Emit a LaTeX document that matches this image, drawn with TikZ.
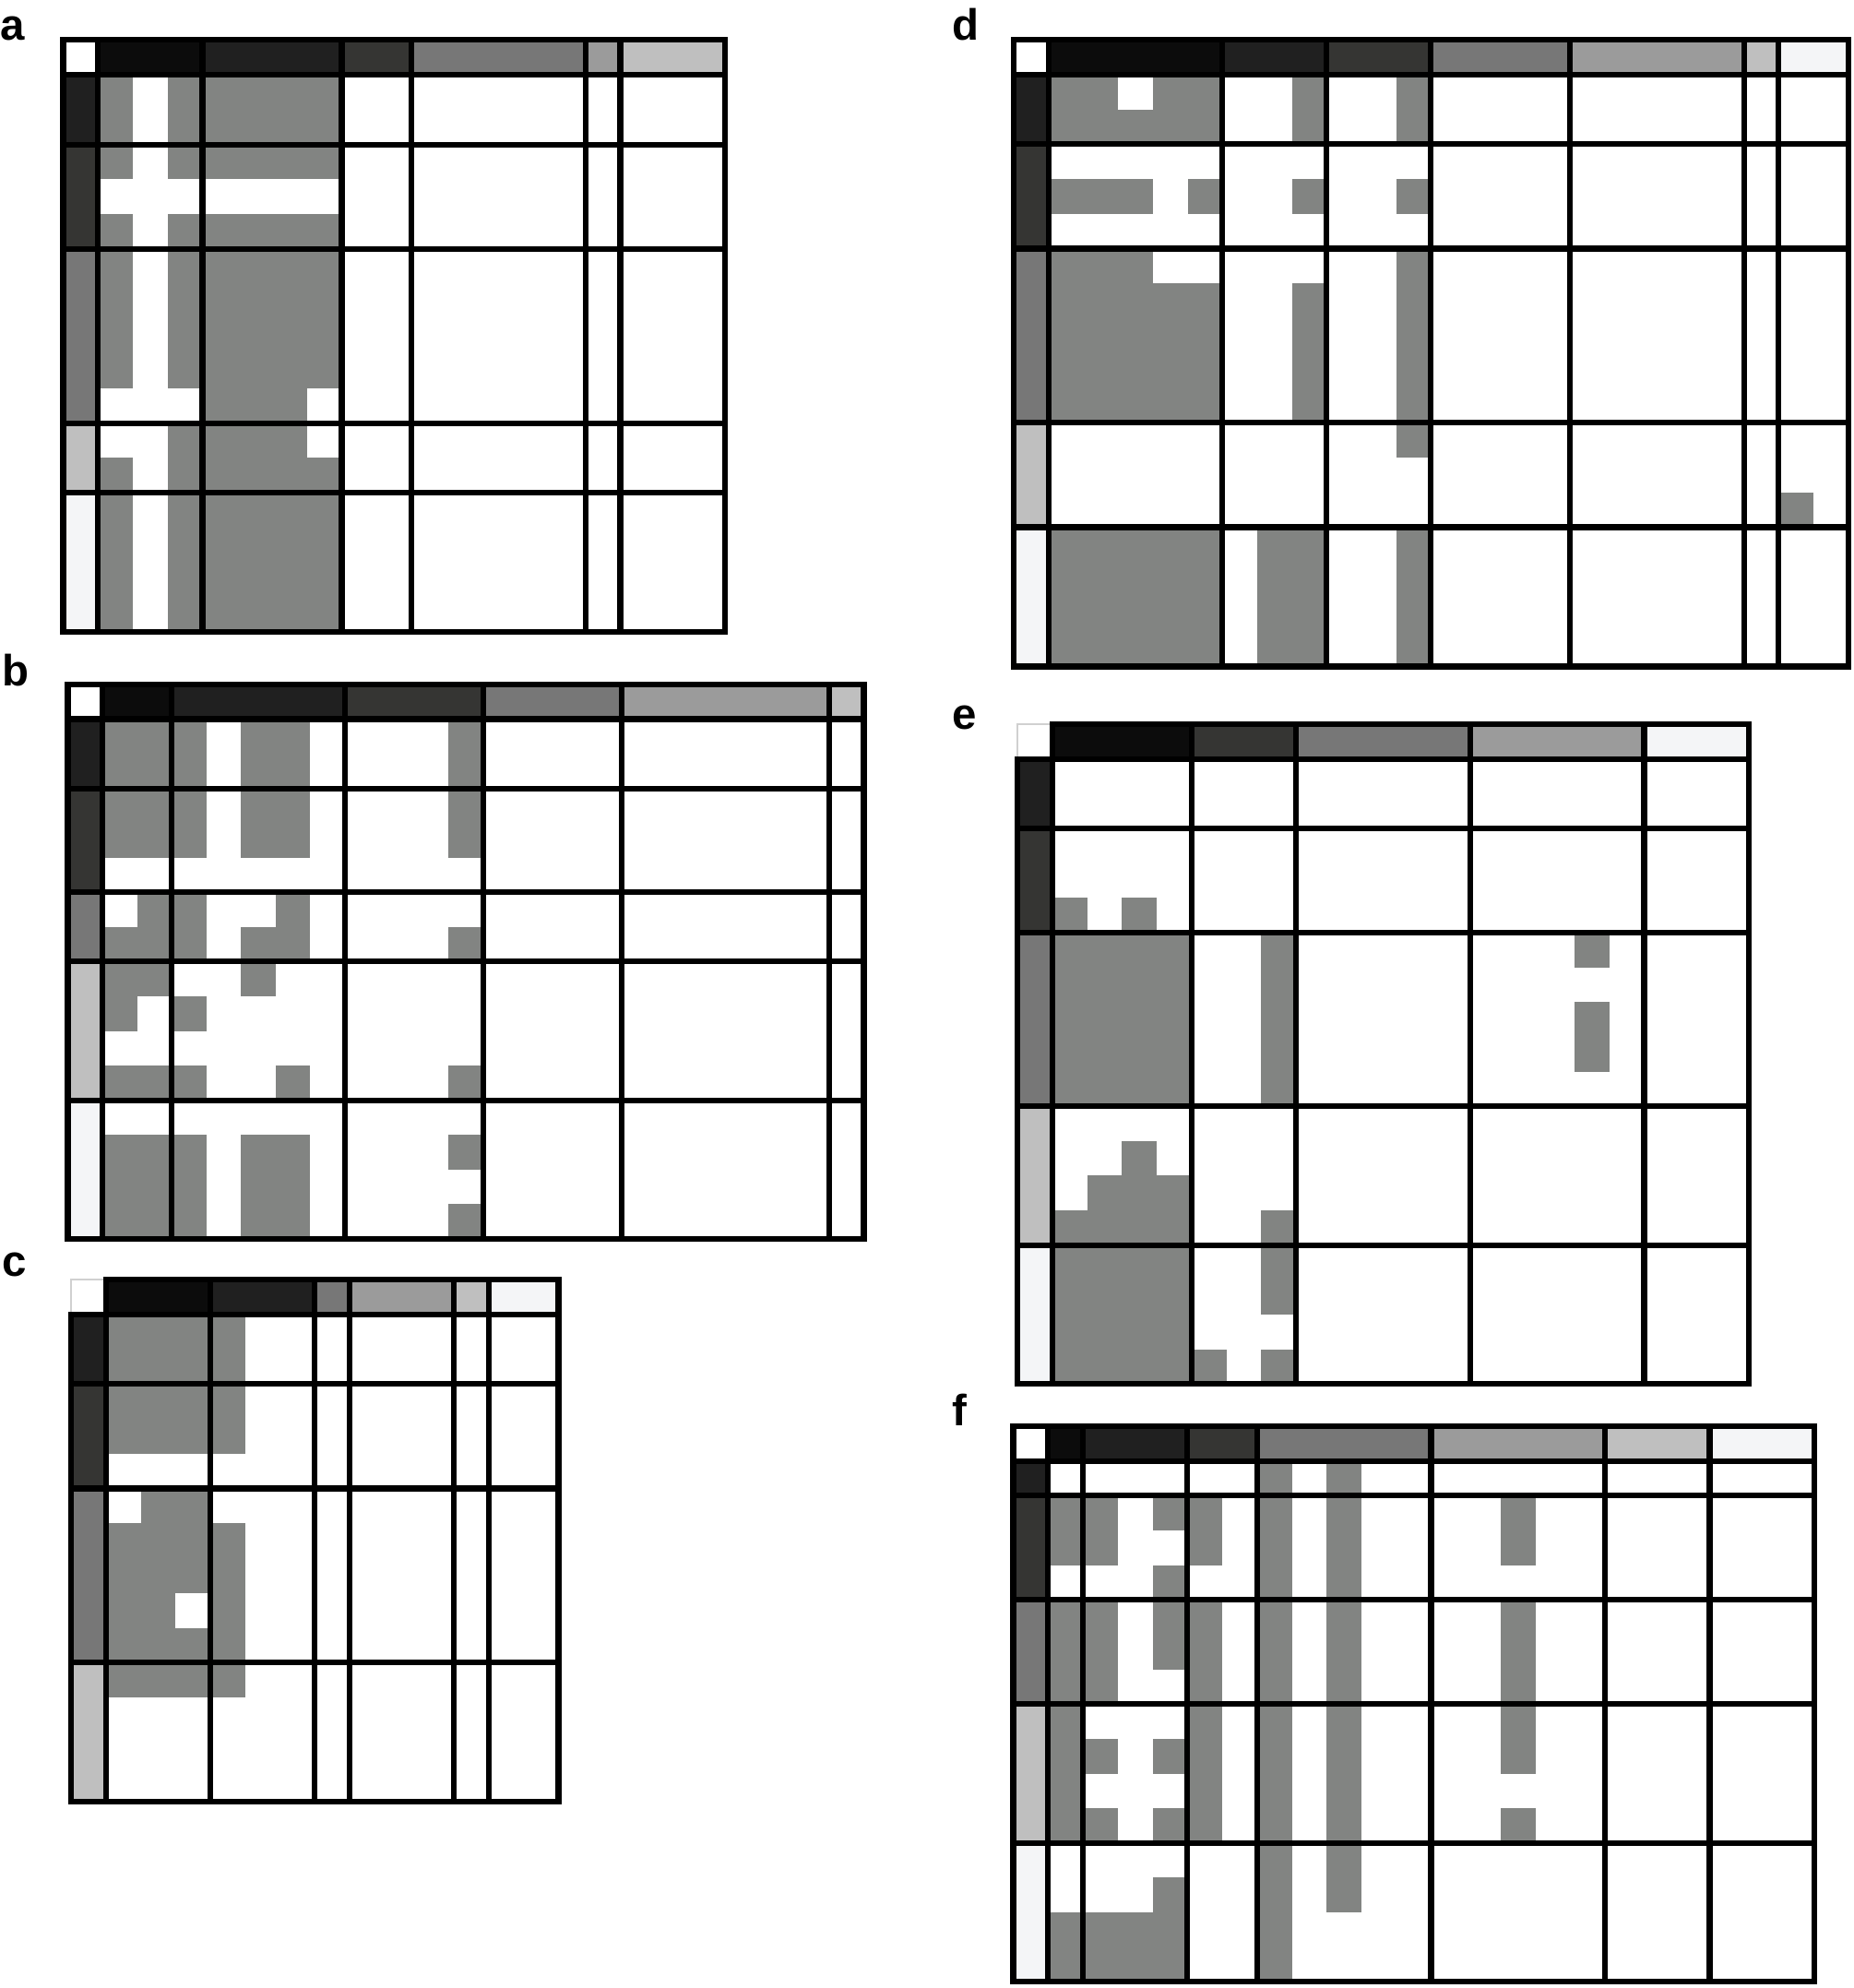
\documentclass[tikz,border=0pt]{standalone}
\usepackage{fontspec}
\setmainfont{Liberation Sans}

\definecolor{hdA}{HTML}{0C0C0C}
\definecolor{hdB}{HTML}{202020}
\definecolor{hdC}{HTML}{353533}
\definecolor{hdD}{HTML}{777777}
\definecolor{hdE}{HTML}{9B9B9B}
\definecolor{hdF}{HTML}{BFBFBF}
\definecolor{hdG}{HTML}{F4F5F7}
\definecolor{cellGrey}{HTML}{828482}
\definecolor{cornerGrey}{HTML}{D0D0D0}

\tikzset{
  gridline/.style={line width=1.75pt, line cap=rect},
  cornerline/.style={draw=cornerGrey, line width=0.8pt},
  cellfill/.style={fill=cellGrey},
  panellabel/.style={font=\fontsize{13.5}{14}\selectfont\bfseries, anchor=base west, inner sep=0pt}
}

\begin{document}
\begin{tikzpicture}
    \useasboundingbox (0,0) rectangle (20.10,-21.55);

    % Panel labels
    \node[panellabel] (labA) at (0.00,-0.43) {a};
    \node[panellabel] (labB) at (0.02,-7.43) {b};
    \node[panellabel] (labC) at (0.02,-13.83) {c};
    \node[panellabel] (labD) at (10.32,-0.43) {d};
    \node[panellabel] (labE) at (10.32,-7.90) {e};
    \node[panellabel] (labF) at (10.32,-15.45) {f};

    % Panel a
    \begin{scope}[shift={(0.685cm,-0.434cm)}, x=0.3775cm, y=-0.3775cm]
        \foreach \c/\a/\b in {hdA/1/4, hdB/4/8, hdC/8/10, hdD/10/15, hdE/15/16, hdF/16/19}
            \fill[\c] (\a,0) rectangle (\b,1);
        \foreach \c/\a/\b in {hdB/1/3, hdC/3/6, hdD/6/11, hdF/11/13, hdG/13/17}
            \fill[\c] (0,\a) rectangle (1,\b);
        \foreach \x/\y/\w/\h in {1/1/1/3, 3/1/5/3, 1/5/1/5, 3/5/5/5, 4/10/3/1, 3/11/4/1, 1/12/1/5, 3/12/5/5}
            \fill[cellfill] (\x,\y) rectangle ++(\w,\h);
        \foreach \x in {1,4,8,10,15,16}
            \draw[gridline] (\x,0) -- (\x,17);
        \foreach \y in {1,3,6,11,13}
            \draw[gridline] (0,\y) -- (19,\y);
        \draw[gridline] (0,0) rectangle (19,17);
    \end{scope}

    % Panel b
    \begin{scope}[shift={(0.735cm,-7.42cm)}, x=0.3752cm, y=-0.3755cm]
        \foreach \c/\a/\b in {hdA/1/3, hdB/3/8, hdC/8/12, hdD/12/16, hdE/16/22, hdF/22/23}
            \fill[\c] (\a,0) rectangle (\b,1);
        \foreach \c/\a/\b in {hdB/1/3, hdC/3/6, hdD/6/8, hdF/8/12, hdG/12/16}
            \fill[\c] (0,\a) rectangle (1,\b);
        \foreach \x/\y/\w/\h in {1/1/3/4, 5/1/2/4, 11/1/1/4, 2/6/2/1, 6/6/1/1, 1/7/3/1, 5/7/2/1, 11/7/1/1,
                1/8/2/1, 5/8/1/1, 1/9/1/1, 3/9/1/1, 1/11/3/1, 6/11/1/1, 11/11/1/1,
                1/13/3/3, 5/13/2/3, 11/13/1/1, 11/15/1/1}
            \fill[cellfill] (\x,\y) rectangle ++(\w,\h);
        \foreach \x in {1,3,8,12,16,22}
            \draw[gridline] (\x,0) -- (\x,16);
        \foreach \y in {1,3,6,8,12}
            \draw[gridline] (0,\y) -- (23,\y);
        \draw[gridline] (0,0) rectangle (23,16);
    \end{scope}

    % Panel c
    \begin{scope}[shift={(0.77cm,-13.87cm)}, x=0.3775cm, y=-0.3775cm]
        \foreach \c/\a/\b in {hdA/1/4, hdB/4/7, hdD/7/8, hdE/8/11, hdF/11/12, hdG/12/14}
            \fill[\c] (\a,0) rectangle (\b,1);
        \foreach \c/\a/\b in {hdB/1/3, hdC/3/6, hdD/6/11, hdF/11/15}
            \fill[\c] (0,\a) rectangle (1,\b);
        \foreach \x/\y/\w/\h in {1/1/4/4, 2/6/2/1, 1/7/4/2, 1/9/2/1, 4/9/1/1, 1/10/4/2}
            \fill[cellfill] (\x,\y) rectangle ++(\w,\h);
        \foreach \x in {1,4,7,8,11,12}
            \draw[gridline] (\x,0) -- (\x,15);
        \foreach \y in {1,3,6,11}
            \draw[gridline] (0,\y) -- (14,\y);
        \draw[cornerline] (0,1) -- (0,0) -- (1,0);
        \draw[gridline] (1,0) -- (14,0) -- (14,15) -- (0,15) -- (0,1);
    \end{scope}

    % Panel d
    \begin{scope}[shift={(10.99cm,-0.43cm)}, x=0.3770cm, y=-0.3775cm]
        \foreach \c/\a/\b in {hdA/1/6, hdB/6/9, hdC/9/12, hdD/12/16, hdE/16/21, hdF/21/22, hdG/22/24}
            \fill[\c] (\a,0) rectangle (\b,1);
        \foreach \c/\a/\b in {hdB/1/3, hdC/3/6, hdD/6/11, hdF/11/14, hdG/14/18}
            \fill[\c] (0,\a) rectangle (1,\b);
        \foreach \x/\y/\w/\h in {1/1/2/1, 4/1/2/1, 1/2/5/1, 8/1/1/2, 11/1/1/2, 1/4/3/1, 5/4/1/1, 8/4/1/1,
                11/4/1/1, 1/6/3/1, 1/7/5/4, 8/7/1/4, 11/6/1/6, 22/13/1/1, 1/14/5/4, 7/14/2/4, 11/14/1/4}
            \fill[cellfill] (\x,\y) rectangle ++(\w,\h);
        \foreach \x in {1,6,9,12,16,21,22}
            \draw[gridline] (\x,0) -- (\x,18);
        \foreach \y in {1,3,6,11,14}
            \draw[gridline] (0,\y) -- (24,\y);
        \draw[gridline] (0,0) rectangle (24,18);
    \end{scope}

    % Panel e
    \begin{scope}[shift={(11.03cm,-7.85cm)}, x=0.3775cm, y=-0.3765cm]
        \foreach \c/\a/\b in {hdA/1/5, hdC/5/8, hdD/8/13, hdE/13/18, hdG/18/21}
            \fill[\c] (\a,0) rectangle (\b,1);
        \foreach \c/\a/\b in {hdB/1/3, hdC/3/6, hdD/6/11, hdF/11/15, hdG/15/19}
            \fill[\c] (0,\a) rectangle (1,\b);
        \foreach \x/\y/\w/\h in {1/5/1/1, 3/5/1/1, 1/6/4/5, 7/6/1/5, 16/6/1/1, 16/8/1/2, 3/12/1/1,
                2/13/3/1, 1/14/4/5, 7/14/1/3, 5/18/1/1, 7/18/1/1}
            \fill[cellfill] (\x,\y) rectangle ++(\w,\h);
        \foreach \x in {1,5,8,13,18}
            \draw[gridline] (\x,0) -- (\x,19);
        \foreach \y in {1,3,6,11,15}
            \draw[gridline] (0,\y) -- (21,\y);
        \draw[cornerline] (0,1) -- (0,0) -- (1,0);
        \draw[gridline] (1,0) -- (21,0) -- (21,19) -- (0,19) -- (0,1);
    \end{scope}

    % Panel f
    \begin{scope}[shift={(10.985cm,-15.46cm)}, x=0.3775cm, y=-0.3765cm]
        \foreach \c/\a/\b in {hdA/1/2, hdB/2/5, hdC/5/7, hdD/7/12, hdE/12/17, hdF/17/20, hdG/20/23}
            \fill[\c] (\a,0) rectangle (\b,1);
        \foreach \c/\a/\b in {hdB/1/2, hdC/2/5, hdD/5/8, hdF/8/12, hdG/12/16}
            \fill[\c] (0,\a) rectangle (1,\b);
        \foreach \x/\y/\w/\h in {7/1/1/15, 9/1/1/13, 1/2/2/2, 4/2/1/1, 4/4/1/3, 5/2/1/2, 14/2/1/2,
                1/5/1/7, 2/5/1/3, 5/5/1/7, 14/5/1/5, 14/11/1/1, 2/9/1/1, 2/11/1/1, 4/9/1/1,
                4/11/1/1, 1/14/3/2, 4/13/1/3}
            \fill[cellfill] (\x,\y) rectangle ++(\w,\h);
        \foreach \x in {1,2,5,7,12,17,20}
            \draw[gridline] (\x,0) -- (\x,16);
        \foreach \y in {1,2,5,8,12}
            \draw[gridline] (0,\y) -- (23,\y);
        \draw[gridline] (0,0) rectangle (23,16);
    \end{scope}

\end{tikzpicture}
\end{document}
